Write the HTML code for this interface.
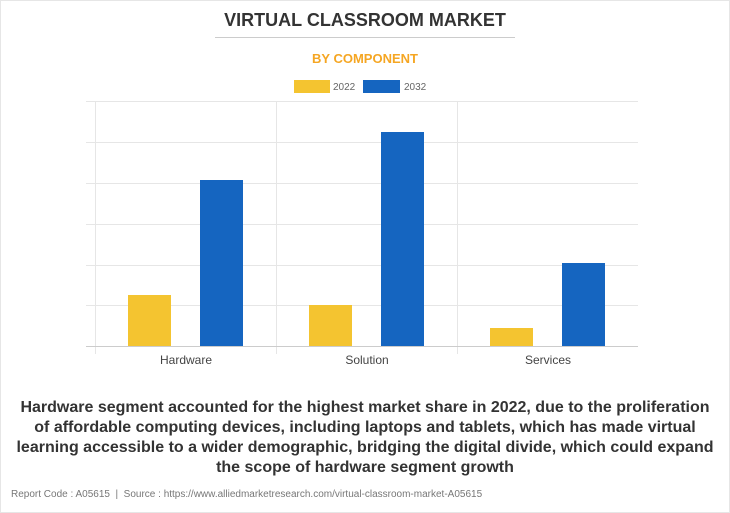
<!DOCTYPE html>
<html><head><style>
body{margin:0;width:730px;height:513px;background:#fff;font-family:"Liberation Sans",sans-serif;overflow:hidden}
.frame{position:absolute;left:0;top:0;width:728px;height:511px;border:1px solid #e6e6e6}
.t{position:absolute;left:0;width:730px;text-align:center}
</style></head><body>
<div class="frame"></div>
<div class="t" style="top:10px;font-size:18px;font-weight:bold;color:#333">VIRTUAL CLASSROOM MARKET</div>
<div style="position:absolute;left:215px;top:37px;width:300px;height:1px;background:#ccc"></div>
<div class="t" style="top:51px;font-size:13px;font-weight:bold;color:#f5a623">BY COMPONENT</div>
<svg style="position:absolute;left:0;top:0" width="730" height="513">
<rect x="294" y="80" width="36" height="13" fill="#f4c430"/>
<text x="333" y="90" font-size="10" fill="#666" font-family="Liberation Sans">2022</text>
<rect x="363" y="80" width="37" height="13" fill="#1565c0"/>
<text x="404" y="90" font-size="10" fill="#666" font-family="Liberation Sans">2032</text>
<g stroke="#e6e6e6" stroke-width="1">
<line x1="86" y1="101.5" x2="638" y2="101.5"/>
<line x1="86" y1="142.5" x2="638" y2="142.5"/>
<line x1="86" y1="183.5" x2="638" y2="183.5"/>
<line x1="86" y1="224.5" x2="638" y2="224.5"/>
<line x1="86" y1="265.5" x2="638" y2="265.5"/>
<line x1="86" y1="305.5" x2="638" y2="305.5"/>
<line x1="95.5" y1="101" x2="95.5" y2="354"/>
<line x1="276.5" y1="101" x2="276.5" y2="354"/>
<line x1="457.5" y1="101" x2="457.5" y2="354"/>
</g>
<rect x="128" y="295" width="43" height="51" fill="#f4c430"/>
<rect x="200" y="180" width="43" height="166" fill="#1565c0"/>
<rect x="309" y="305" width="43" height="41" fill="#f4c430"/>
<rect x="381" y="132" width="43" height="214" fill="#1565c0"/>
<rect x="490" y="328" width="43" height="18" fill="#f4c430"/>
<rect x="562" y="263" width="43" height="83" fill="#1565c0"/>
<line x1="86" y1="346.5" x2="638" y2="346.5" stroke="#ccc"/>
<g font-size="12" fill="#444" font-family="Liberation Sans" text-anchor="middle">
<text x="186" y="364">Hardware</text><text x="367" y="364">Solution</text><text x="548" y="364">Services</text>
</g>
</svg>
<div class="t" style="top:398px;font-size:16px;font-weight:bold;color:#333;line-height:20px">Hardware segment accounted for the highest market share in 2022, due to the proliferation<br>of affordable computing devices, including laptops and tablets, which has made virtual<br>learning accessible to a wider demographic, bridging the digital divide, which could expand<br>the scope of hardware segment growth</div>
<div style="position:absolute;left:11px;top:489px;font-size:10px;color:#777">Report Code : A05615 &nbsp;|&nbsp; Source : https://www.alliedmarketresearch.com/virtual-classroom-market-A05615</div>
</body></html>
